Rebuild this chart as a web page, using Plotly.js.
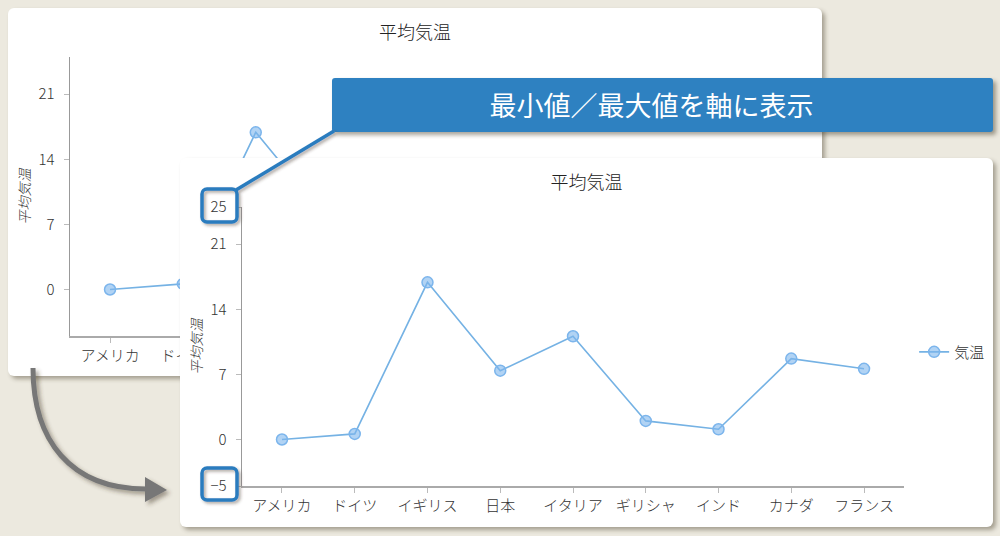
<!DOCTYPE html>
<html>
<head>
<meta charset="utf-8">
<script src="https://cdn.plot.ly/plotly-3.0.1.min.js"></script>
<style>
  body { margin: 0; width: 1000px; height: 536px; background: #ECE9DF; overflow: hidden;
         font-family: "Noto Sans CJK JP", "Noto Sans", sans-serif; }
  .card { position: absolute; background: #fff; border-radius: 6px;
          box-shadow: 3px 3px 4px rgba(80, 70, 50, 0.45); }
  #back { left: 8px; top: 8px; width: 814px; height: 368px; }
  #front { left: 180px; top: 158px; width: 813px; height: 369px; }
  #banner { position: absolute; left: 332px; top: 78px; width: 639px; height: 54px;
            background: #2E81C1; border-radius: 3px; color: #fff; font-size: 27px;
            line-height: 54px; text-align: center; padding-right: 22px;
            box-shadow: 3px 3px 4px rgba(60, 50, 30, 0.45); }
  #deco { position: absolute; left: 0; top: 0; }
</style>
</head>
<body>
<div id="back" class="card"></div>
<svg id="deco" width="1000" height="536">
  <defs>
    <filter id="sh" x="-20%" y="-20%" width="140%" height="140%">
      <feDropShadow dx="3" dy="3" stdDeviation="2" flood-color="#403020" flood-opacity="0.45"/>
    </filter>
  </defs>
  <g filter="url(#sh)">
    <path d="M33,368 C33,440 70,489 146,489" fill="none" stroke="#777" stroke-width="5"/>
    <polygon points="145,477 167,490 145,502" fill="#777"/>
  </g>
</svg>
<div id="front" class="card"></div>
<div id="banner">最小値／最大値を軸に表示</div>
<svg id="deco2" width="1000" height="536" style="position:absolute;left:0;top:0;pointer-events:none">
  <defs>
    <filter id="sh2" x="-20%" y="-20%" width="140%" height="140%">
      <feDropShadow dx="2" dy="2" stdDeviation="1.5" flood-color="#403020" flood-opacity="0.4"/>
    </filter>
  </defs>
  <g filter="url(#sh2)" fill="none" stroke="#2A7BBE" stroke-width="3.5">
    <line x1="334" y1="131" x2="236" y2="190"/>
    <rect x="202" y="189" width="35" height="33" rx="5"/>
    <rect x="202" y="468" width="35" height="32" rx="5"/>
  </g>
</svg>
<script>
// 平均気温データ
var countries = ["アメリカ", "ドイツ", "イギリス", "日本", "イタリア", "ギリシャ", "インド", "カナダ", "フランス"];
var temps = [0.0, 0.6, 16.9, 7.4, 11.1, 2.0, 1.1, 8.7, 7.6];
var backTicks = [0, 7, 14, 21];
var frontTicks = [-5, 0, 7, 14, 21, 25];

var font = "Noto Sans CJK JP, Noto Sans, sans-serif";

function makeLayout(ticks) {
  return {
    width: 814, height: 368,
    margin: {l: 62, r: 89, t: 49, b: 40},
    paper_bgcolor: "rgba(0,0,0,0)",
    plot_bgcolor: "rgba(0,0,0,0)",
    font: {family: font, color: "#333", size: 15, weight: 300},
    title: {text: "平均気温", x: 0.5, xref: "container", y: 0.932, yanchor: "middle",
            font: {size: 18, color: "#222", weight: 300}},
    xaxis: {
      type: "category", showgrid: false, zeroline: false,
      showline: true, linecolor: "#aaa", linewidth: 1.5,
      ticks: "outside", ticklen: 5, tickcolor: "#bbb",
      tickfont: {size: 15, color: "#333", weight: 300}
    },
    yaxis: {
      range: [-5, 25], tickvals: ticks, showgrid: false, zeroline: false,
      showline: true, linecolor: "#999", linewidth: 1.5,
      ticks: "outside", ticklen: 5, tickcolor: "#bbb", ticklabelstandoff: 6,
      tickfont: {size: 15, color: "#333", weight: 300},
      title: {text: "平均気温", standoff: 4, font: {size: 14, color: "#333", style: "italic", weight: 300}}
    },
    showlegend: true,
    legend: {xref: "container", x: 0.903, y: 0.48, yanchor: "middle", xanchor: "left",
             bgcolor: "rgba(0,0,0,0)", font: {size: 15, color: "#333", weight: 300}}
  };
}

function makeTrace() {
  return {
    x: countries, y: temps, name: "気温",
    type: "scatter", mode: "lines+markers",
    line: {color: "#75B2E4", width: 1.6},
    marker: {size: 11, color: "rgba(125,181,236,0.6)", line: {color: "#7CB5EC", width: 1.5}}
  };
}

var cfg = {staticPlot: true, displayModeBar: false};
Plotly.newPlot("back", [makeTrace()], makeLayout(backTicks), cfg);
var fl = makeLayout(frontTicks);
fl.width = 813; fl.height = 369; fl.margin.b = 41;
Plotly.newPlot("front", [makeTrace()], fl, cfg);
</script>
</body>
</html>
